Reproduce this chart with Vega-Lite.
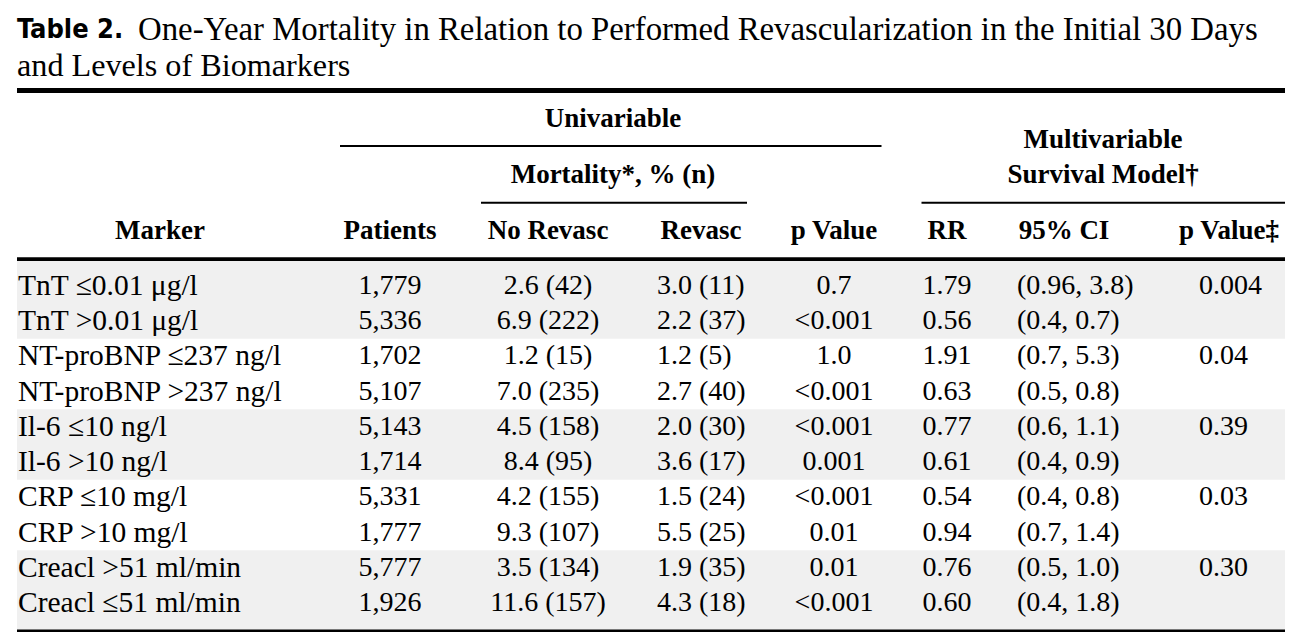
{
  "$schema": "https://vega.github.io/schema/vega-lite/v6.json",
  "width": 1296,
  "height": 640,
  "autosize": {"type": "fit", "contains": "padding"},
  "padding": 0,
  "background": "white",
  "config": {"view": {"stroke": null}, "text": {"font": "Liberation Serif", "fill": "#000", "baseline": "middle"}},
  "datasets": {
    "rows": [
      {"r": 1, "marker": "TnT ≤0.01 μg/l", "patients": "1,779", "noRevasc": "2.6 (42)", "revasc": "3.0 (11)", "p": "0.7", "rr": "1.79", "ci": "(0.96, 3.8)", "p2": "0.004"},
      {"r": 2, "marker": "TnT >0.01 μg/l", "patients": "5,336", "noRevasc": "6.9 (222)", "revasc": "2.2 (37)", "p": "<0.001", "rr": "0.56", "ci": "(0.4, 0.7)", "p2": ""},
      {"r": 3, "marker": "NT-proBNP ≤237 ng/l", "patients": "1,702", "noRevasc": "1.2 (15)", "revasc": "1.2 (5)", "p": "1.0", "rr": "1.91", "ci": "(0.7, 5.3)", "p2": "0.04"},
      {"r": 4, "marker": "NT-proBNP >237 ng/l", "patients": "5,107", "noRevasc": "7.0 (235)", "revasc": "2.7 (40)", "p": "<0.001", "rr": "0.63", "ci": "(0.5, 0.8)", "p2": ""},
      {"r": 5, "marker": "Il-6 ≤10 ng/l", "patients": "5,143", "noRevasc": "4.5 (158)", "revasc": "2.0 (30)", "p": "<0.001", "rr": "0.77", "ci": "(0.6, 1.1)", "p2": "0.39"},
      {"r": 6, "marker": "Il-6 >10 ng/l", "patients": "1,714", "noRevasc": "8.4 (95)", "revasc": "3.6 (17)", "p": "0.001", "rr": "0.61", "ci": "(0.4, 0.9)", "p2": ""},
      {"r": 7, "marker": "CRP ≤10 mg/l", "patients": "5,331", "noRevasc": "4.2 (155)", "revasc": "1.5 (24)", "p": "<0.001", "rr": "0.54", "ci": "(0.4, 0.8)", "p2": "0.03"},
      {"r": 8, "marker": "CRP >10 mg/l", "patients": "1,777", "noRevasc": "9.3 (107)", "revasc": "5.5 (25)", "p": "0.01", "rr": "0.94", "ci": "(0.7, 1.4)", "p2": ""},
      {"r": 9, "marker": "Creacl >51 ml/min", "patients": "5,777", "noRevasc": "3.5 (134)", "revasc": "1.9 (35)", "p": "0.01", "rr": "0.76", "ci": "(0.5, 1.0)", "p2": "0.30"},
      {"r": 10, "marker": "Creacl ≤51 ml/min", "patients": "1,926", "noRevasc": "11.6 (157)", "revasc": "4.3 (18)", "p": "<0.001", "rr": "0.60", "ci": "(0.4, 1.8)", "p2": ""}
    ],
    "headers": [
      {"r": -4, "c": 3.5, "t": "Univariable"},
      {"r": -3.6, "c": 7.5, "t": "Multivariable"},
      {"r": -3, "c": 3.5, "t": "Mortality*, % (n)"},
      {"r": -3, "c": 7.5, "t": "Survival Model†"},
      {"r": -2, "c": 1, "t": "Marker"},
      {"r": -2, "c": 2, "t": "Patients"},
      {"r": -2, "c": 3, "t": "No Revasc"},
      {"r": -2, "c": 4, "t": "Revasc"},
      {"r": -2, "c": 5, "t": "p Value"},
      {"r": -2, "c": 6, "t": "RR"},
      {"r": -2, "c": 7, "t": "95% CI"},
      {"r": -2, "c": 8, "t": "p Value‡"}
    ],
    "titles": [
      {"r": -7, "c": 0, "k": "label", "t": "Table 2."},
      {"r": -7, "c": 0, "k": "t1", "t": "One-Year Mortality in Relation to Performed Revascularization in the Initial 30 Days"},
      {"r": -6, "c": 0, "k": "t2", "t": "and Levels of Biomarkers"}
    ],
    "rules": [
      {"r": -5, "c": 0, "c2": 9, "kind": "top"},
      {"r": -1.5, "c": 0, "c2": 9, "kind": "head"},
      {"r": 11, "c": 0, "c2": 9, "kind": "bottom"},
      {"r": -3.5, "c": 1.5, "c2": 5.5, "kind": "span"},
      {"r": -2.5, "c": 2.5, "c2": 4.5, "kind": "span"},
      {"r": -2.5, "c": 5.5, "c2": 9, "kind": "spanEdge"}
    ],
    "bands": [
      {"r": -1.5, "r2": 2.5, "c": 0, "c2": 9},
      {"r": 4.5, "r2": 6.5, "c": 0, "c2": 9},
      {"r": 8.5, "r2": 11, "c": 0, "c2": 9}
    ]
  },
  "encoding": {
    "y": {"field": "r", "type": "quantitative", "axis": null,
      "scale": {"domain": [-7, -6, -5, -4, -3.6, -3.5, -3, -2.5, -2, -1.5, 1, 10, 11],
                "range": [30, 66, 90.5, 119, 140, 146, 175, 202.7, 231, 259, 286, 603, 630.8],
                "nice": false, "zero": false}}
  },
  "layer": [
    {
      "data": {"name": "bands"},
      "mark": {"type": "rect", "color": "#f0f0f0"},
      "encoding": {
        "x": {"field": "c", "type": "quantitative", "axis": null,
          "scale": {"domain": [0, 1, 1.5, 2, 2.5, 3, 3.5, 4, 4.5, 5, 5.5, 6, 7, 7.5, 8, 9],
                    "range": [17, 160, 320, 390, 461, 548, 613, 701, 767, 834, 901.5, 947, 1064, 1103, 1229, 1285],
                    "nice": false, "zero": false}},
        "x2": {"field": "c2"},
        "y2": {"field": "r2"}
      }
    },
    {
      "data": {"name": "rules"},
      "transform": [{"filter": "datum.kind === 'top' || datum.kind === 'head' || datum.kind === 'bottom'"}],
      "mark": {"type": "rule", "color": "#000"},
      "encoding": {
        "x": {"field": "c", "type": "quantitative"},
        "x2": {"field": "c2"},
        "strokeWidth": {"field": "kind", "type": "nominal", "legend": null,
          "scale": {"domain": ["top", "head", "bottom"], "range": [5, 2.5, 3]}}
      }
    },
    {
      "data": {"name": "rules"},
      "transform": [{"filter": "datum.kind === 'span'"}],
      "mark": {"type": "rule", "color": "#000", "strokeWidth": 2, "xOffset": 20, "x2Offset": -20},
      "encoding": {"x": {"field": "c", "type": "quantitative"}, "x2": {"field": "c2"}}
    },
    {
      "data": {"name": "rules"},
      "transform": [{"filter": "datum.kind === 'spanEdge'"}],
      "mark": {"type": "rule", "color": "#000", "strokeWidth": 2, "xOffset": 20},
      "encoding": {"x": {"field": "c", "type": "quantitative"}, "x2": {"field": "c2"}}
    },
    {
      "data": {"name": "titles"},
      "transform": [{"filter": "datum.k === 'label'"}],
      "mark": {"type": "text", "align": "left", "font": "Liberation Sans Narrow, DejaVu Sans Condensed, sans-serif", "fontWeight": "bold", "fontSize": 27},
      "encoding": {"x": {"field": "c", "type": "quantitative"}, "text": {"field": "t"}}
    },
    {
      "data": {"name": "titles"},
      "transform": [{"filter": "datum.k === 't1'"}],
      "mark": {"type": "text", "align": "left", "fontSize": 32.8, "dx": 121},
      "encoding": {"x": {"field": "c", "type": "quantitative"}, "text": {"field": "t"}}
    },
    {
      "data": {"name": "titles"},
      "transform": [{"filter": "datum.k === 't2'"}],
      "mark": {"type": "text", "align": "left", "fontSize": 32.2},
      "encoding": {"x": {"field": "c", "type": "quantitative"}, "text": {"field": "t"}}
    },
    {
      "data": {"name": "headers"},
      "mark": {"type": "text", "align": "center", "fontWeight": "bold", "fontSize": 27},
      "encoding": {"x": {"field": "c", "type": "quantitative"}, "text": {"field": "t"}}
    },
    {
      "data": {"name": "rows"},
      "mark": {"type": "text", "align": "left", "fontSize": 29.5, "dx": 1},
      "encoding": {"x": {"datum": 0, "type": "quantitative"}, "text": {"field": "marker"}}
    },
    {
      "data": {"name": "rows"},
      "mark": {"type": "text", "align": "center", "fontSize": 28},
      "encoding": {"x": {"datum": 2, "type": "quantitative"}, "text": {"field": "patients"}}
    },
    {
      "data": {"name": "rows"},
      "mark": {"type": "text", "align": "center", "fontSize": 28},
      "encoding": {"x": {"datum": 3, "type": "quantitative"}, "text": {"field": "noRevasc"}}
    },
    {
      "data": {"name": "rows"},
      "mark": {"type": "text", "align": "left", "fontSize": 28, "dx": -44},
      "encoding": {"x": {"datum": 4, "type": "quantitative"}, "text": {"field": "revasc"}}
    },
    {
      "data": {"name": "rows"},
      "mark": {"type": "text", "align": "center", "fontSize": 28},
      "encoding": {"x": {"datum": 5, "type": "quantitative"}, "text": {"field": "p"}}
    },
    {
      "data": {"name": "rows"},
      "mark": {"type": "text", "align": "center", "fontSize": 28},
      "encoding": {"x": {"datum": 6, "type": "quantitative"}, "text": {"field": "rr"}}
    },
    {
      "data": {"name": "rows"},
      "mark": {"type": "text", "align": "left", "fontSize": 28, "dx": -47},
      "encoding": {"x": {"datum": 7, "type": "quantitative"}, "text": {"field": "ci"}}
    },
    {
      "data": {"name": "rows"},
      "mark": {"type": "text", "align": "left", "fontSize": 28, "dx": -30},
      "encoding": {"x": {"datum": 8, "type": "quantitative"}, "text": {"field": "p2"}}
    }
  ]
}
